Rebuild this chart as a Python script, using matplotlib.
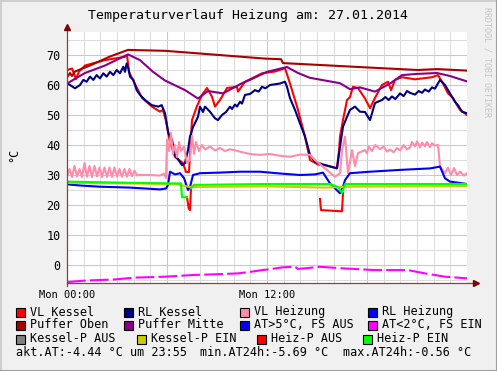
import matplotlib
matplotlib.use('agg')
import matplotlib.pyplot as plt
from matplotlib.patches import Rectangle
from matplotlib.lines import Line2D
import numpy as np

nan = np.nan

# --- data (hours since Mon 00:00, degC) ---
vl_kessel_h = [0, 0.3, 0.54, 0.72, 1.08, 2.28, 3.48, 3.6, 3.72, 3.9, 4.2, 4.5, 5.1, 5.58, 5.76, 5.94,
               6.18, 6.48, 6.96, 7.14, 7.32, 7.5, 7.8, 8.1, 8.4, 8.7, 8.88, 9.18, 9.6, 10.2, 10.26,
               10.68, 11.7, 12.48, 13.08, 13.38, 13.86, 14.28, 14.58, 15.06, 15.48, 16.2, 16.32,
               16.38, 16.56, 16.8, 16.98, 17.16, 17.46, 17.88, 18.18, 18.48, 18.9, 19.26, 19.44,
               19.68, 20.1, 20.88, 21.9, 22.26, 22.56, 22.86, 23.16, 23.4, 23.58, 23.76, 24]
vl_kessel_v = [65, 65.5, 62, 64.5, 66.5, 68.3, 69.4, 70, 64.4, 62.3, 59, 55.7, 52.8, 51.1, 51.7, 48,
               41, 36, 34, 31, 31, 48.3, 53, 56.7, 59, 56.1, 52.8, 55, 59, 59.4, 57.8,
               61.1, 63.9, 64.5, 65.6, 60.5, 51.7, 42.8, 35, 33.5, 33.3, 32.3, 38,
               42.8, 48.3, 55, 56, 59.4, 59, 55.5, 52.3, 55.7, 60, 61.1, 58.3,
               61.7, 62.6, 61.9, 62.6, 63.3, 60.5, 57.2, 55.7, 53.3, 51.7, 51, 50]

rl_kessel_h = [0, 0.18, 0.48, 0.78, 0.98, 1.18, 1.38, 1.58, 1.78, 1.98, 2.18, 2.38, 2.58, 2.78, 2.98,
               3.18, 3.38, 3.48, 3.58, 3.68, 3.78, 3.98, 4.18, 4.38, 4.68, 5.08, 5.48, 5.68, 5.88,
               5.98, 6.08, 6.3, 6.48, 6.9, 7.08, 7.26, 7.38, 7.56, 7.68, 7.86, 7.98, 8.16, 8.28,
               8.58, 8.88, 9.06, 9.3, 9.54, 9.78, 9.9, 10.08, 10.2, 10.38, 10.5, 10.68, 10.98, 11.28,
               11.5, 11.7, 11.9, 12.18, 12.78, 13.08, 13.2, 13.38, 13.68, 13.98, 14.28, 14.58, 14.88,
               15.48, 16.2, 16.38, 16.56, 16.8, 16.98, 17.28, 17.58, 17.88, 18.18, 18.48, 18.9, 19.1,
               19.3, 19.5, 19.7, 19.98, 20.2, 20.4, 20.58, 20.88, 21.1, 21.3, 21.48, 21.7, 21.9,
               22.08, 22.38, 22.68, 22.98, 23.28, 23.46, 23.7, 24]
rl_kessel_v = [60.6, 60, 58.9, 60, 61.7, 61.1, 62.8, 61.7, 63.3, 62.2, 63.9, 62.8, 64.4, 63.3, 65,
               63.9, 66.1, 64.4, 67.2, 65.6, 62.8, 61.7, 58.3, 56.7, 55, 53.3, 52.8, 53.3, 50.6,
               47.2, 43.9, 41.7, 36.7, 33.3, 34, 38.3, 42.8, 46, 47.3, 49.4, 52.8, 51, 52.8,
               51.1, 48.9, 48.3, 50, 51, 52.8, 52, 53.5, 52.8, 54.4, 53.8, 56.7, 57, 58.3,
               57.8, 59.4, 58.9, 60, 60.5, 61.1, 59.4, 55.6, 51.7, 47.2, 42.8, 36.7, 34.4,
               33.3, 32.2, 39.4, 46.1, 49.4, 51.7, 52.8, 51.1, 51, 48.3, 54, 55, 56,
               55, 56.2, 55.3, 57.2, 56.3, 58, 57.4, 56.8, 58, 57.4, 58.5, 57.8, 59.2,
               58.8, 61.7, 60, 57.2, 54.4, 53.3, 51.1, 50.6]

vl_heizung_h = [0, 0.15, 0.3, 0.45, 0.6, 0.75, 0.9, 1.05, 1.2, 1.35, 1.5, 1.65, 1.8, 1.95, 2.1, 2.25,
                2.4, 2.55, 2.7, 2.85, 3.0, 3.15, 3.3, 3.45, 3.6, 3.75, 3.9, 4.05, 4.2, 4.26, 4.98,
                5.58, 5.82, 5.94, 6.0, 6.12, 6.24, 6.36, 6.48, 6.6, 6.72, 6.84, 7.02, 7.2, 7.38,
                7.5, 7.62, 7.74, 7.92, 8.1, 8.28, 8.58, 8.88, 9.18, 9.48, 9.78, 10.38, 10.98,
                11.58, 12.18, 12.78, 13.38, 13.98, 14.58, 14.88, 15.48, 16.08, 16.38, 16.5, 16.68,
                16.86, 17.1, 17.28, 17.46, 17.88, 18.0, 18.1, 18.3, 18.5, 18.78, 19.0, 19.2, 19.38,
                19.6, 19.8, 19.98, 20.2, 20.4, 20.58, 20.7, 20.88, 21.0, 21.18, 21.3, 21.48, 21.6,
                21.78, 21.9, 22.08, 22.26, 22.38, 22.68, 22.86, 23.04, 23.22, 23.4, 23.58, 23.82, 24]
vl_heizung_v = [29.5, 32, 29.3, 33, 29.5, 32, 29.3, 34, 29.4, 33, 29.3, 33, 29.5, 32.5, 29.3, 32.5,
                29.4, 32.5, 29.3, 32.5, 29.5, 32, 29.4, 32, 29.4, 32, 29.6, 31.5, 29.8, 30, 30,
                29.8, 30.5, 29, 41.7, 38, 44, 37, 40, 36, 41, 38, 39.5, 34, 35,
                43, 37, 41, 38, 40, 38.5, 39.5, 38.2, 39, 38, 38.6, 37.8, 37,
                36.7, 37, 36.4, 36.1, 36.8, 36.7, 35, 32.2, 29.4, 30.6, 38.3, 42.8,
                30.6, 38.3, 33, 37.3, 38.3, 37.2, 39.5, 38, 40, 38.6, 39.5, 37.8, 38.5,
                37.6, 39, 38.2, 40, 38.5, 39.2, 41, 39.5, 41.2, 39.2, 40.8, 39.6, 41,
                39.3, 40.6, 39.8, 40, 32.8, 30.6, 32.5, 30, 32.3, 30, 31.1, 29.8, 30.6]

rl_heizung_h = [0, 0.78, 1.98, 3.78, 4.68, 5.58, 5.94, 6.06, 6.18, 6.48, 6.78, 7.02, 7.26, 7.38, 7.56,
                7.98, 9.18, 10.38, 11.58, 12.78, 13.98, 14.88, 15.36, 15.78, 16.38, 16.56, 16.68,
                16.98, 18.18, 19.98, 21.78, 22.38, 22.68, 22.98, 24]
rl_heizung_v = [26.9, 26.5, 26.1, 25.8, 25.5, 25.2, 25.5, 26.7, 31.1, 30.2, 30.6, 29, 25, 26, 30,
                30.6, 30.8, 31.1, 31.1, 30.5, 30, 30.2, 30.8, 27.2, 23.9, 26, 28.3,
                30.6, 31.1, 31.7, 32.2, 32.8, 28.9, 27.8, 27]

puffer_oben_h = [0, 0.18, 0.3, 0.48, 1.38, 2.58, 3.66, 5.88, 7.98, 11.88, 12.84, 12.96, 15.78, 18.18,
                 21.06, 21.78, 22.26, 24]
puffer_oben_v = [62.5, 64, 63, 64.5, 66.5, 69.5, 71.7, 71.4, 70.5, 68.8, 68.6, 67.3, 66.5, 65.8,
                 65, 65.2, 65.3, 64.8]

puffer_mitte_h = [0, 1.08, 2.28, 3.66, 4.38, 5.16, 5.88, 7.08, 7.86, 8.46, 9.36, 10.5, 10.98, 12,
                  13.2, 13.86, 14.58, 16.38, 16.98, 17.58, 18.48, 19.38, 20.1, 21, 22.2, 22.98, 24]
puffer_mitte_v = [60.5, 64, 66.5, 70.2, 68.3, 64.4, 61.5, 58.3, 55.5, 58, 57.2, 60.6, 61.7, 64.4,
                  66, 64, 62.4, 60.6, 58.6, 59.2, 57.8, 60.5, 63.3, 63.7, 64, 63, 61.2]

at_fs_ein_h = [0, 1.08, 2.88, 4.08, 5.88, 7.68, 8.88, 10.26, 11.1, 11.7, 12.18, 12.9, 13.68, 13.86,
               14.28, 15.18, 16.5, 18.48, 20.46, 21.48, 22.68, 24]
at_fs_ein_v = [-5.69, -5.2, -4.8, -4.2, -3.9, -3.3, -3.1, -2.8, -2.2, -1.7, -1.4, -0.8, -0.56, -1.3,
               -1.1, -0.6, -1.1, -1.7, -1.7, -2.8, -3.9, -4.44]

kessel_p_ein_h = [0, 6.48, 7.38, 12, 15.5, 17, 24]
kessel_p_ein_v = [27.4, 27, 26, 26.2, 25.8, 26.1, 26.3]

heiz_p_aus_h = [7.2, 7.3, 7.38, 7.44, 7.45, 15.18, 15.24, 16.5, 16.56]
heiz_p_aus_v = [22.6, 18.9, 18.3, 25.6, nan, 22, 18.3, 17.9, 24]

heiz_p_ein_h = [0, 3.78, 6.18, 6.84, 6.9, 7.2, 7.21, 7.44, 7.62, 11.88, 15.78, 16.26, 16.5, 16.68, 24]
heiz_p_ein_v = [27.8, 27.4, 27.2, 27.2, 22.6, 22.6, nan, 25.6, 26.7, 27, 27, 26, 24, 27, 27]

legend_rows = [
    [("VL Kessel", "#FF0000"), ("RL Kessel", "#000080"), ("VL Heizung", "#FF8CAA"), ("RL Heizung", "#0000FF")],
    [("Puffer Oben", "#AA0000"), ("Puffer Mitte", "#880088"), ("AT>5°C, FS AUS", "#0000FF"), ("AT<2°C, FS EIN", "#FF00FF")],
    [("Kessel-P AUS", "#808080"), ("Kessel-P EIN", "#CCCC00"), ("Heiz-P AUS", "#FF0000"), ("Heiz-P EIN", "#00FF00")],
]
legend_x = [[16, 124, 240, 368], [16, 124, 240, 368], [16, 137, 257, 363]]
stats_text = ["akt.AT:-4.44 °C um 23:55", "min.AT24h:-5.69 °C", "max.AT24h:-0.56 °C"]
stats_x = [16, 200, 343]

W, H = 497, 371
mono = 'DejaVu Sans Mono'

fig = plt.figure(figsize=(W / 100, H / 100), dpi=100)
fig.patch.set_facecolor('#F0F0F0')

ax = fig.add_axes([67 / W, (H - 283) / H, 400 / W, 251 / H])
ax.set_facecolor('white')
ax.set_xlim(0, 24)
ax.set_ylim(-6, 77.67)

# grid
for h in range(1, 24):
    c = '#F2B8B8' if h % 6 == 0 else '#DCDCDC'
    ax.axvline(h, color=c, lw=0.75, zorder=0)
for v in range(-5, 78, 5):
    c = '#F2B8B8' if v % 10 == 0 else '#DCDCDC'
    ax.axhline(v, color=c, lw=0.75, zorder=0)

lw = 1.5
ax.plot(vl_kessel_h, vl_kessel_v, color='#FF0000', lw=lw, zorder=2)
ax.plot(rl_kessel_h, rl_kessel_v, color='#000080', lw=lw, zorder=3)
ax.plot(vl_heizung_h, vl_heizung_v, color='#FF8CAA', lw=lw, zorder=4)
ax.plot(rl_heizung_h, rl_heizung_v, color='#0000FF', lw=lw, zorder=5)
ax.plot(puffer_oben_h, puffer_oben_v, color='#AA0000', lw=lw, zorder=6)
ax.plot(puffer_mitte_h, puffer_mitte_v, color='#880088', lw=lw, zorder=7)
ax.plot(at_fs_ein_h, at_fs_ein_v, color='#FF00FF', lw=lw, ls=(0, (9, 2)), zorder=8)
ax.plot(kessel_p_ein_h, kessel_p_ein_v, color='#CCCC00', lw=lw, zorder=9)
ax.plot(heiz_p_aus_h, heiz_p_aus_v, color='#FF0000', lw=lw, zorder=10)
ax.plot(heiz_p_ein_h, heiz_p_ein_v, color='#00FF00', lw=lw, zorder=11)

# ticks
ax.set_yticks(range(0, 71, 10))
ax.set_yticklabels([str(v) for v in range(0, 71, 10)], family=mono, fontsize=8.5)
ax.set_xticks([0, 12])
ax.set_xticklabels(['Mon 00:00', 'Mon 12:00'], family=mono, fontsize=7.5)
ax.tick_params(axis='y', length=0, pad=4.5)
ax.tick_params(axis='x', length=0, pad=5)
for s in ax.spines.values():
    s.set_visible(False)

# axes with arrows
axis_col = '#8B4040'
ax.plot([0, 0], [-0.01, 1.015], transform=ax.transAxes, color=axis_col, lw=0.9, clip_on=False, zorder=20)
ax.plot([0, 1.02], [0, 0], transform=ax.transAxes, color=axis_col, lw=0.9, clip_on=False, zorder=20)
ax.plot([0], [1.02], transform=ax.transAxes, marker='^', ms=4, color='#7F0000', clip_on=False, zorder=21)
ax.plot([1.022], [0], transform=ax.transAxes, marker='>', ms=4, color='#7F0000', clip_on=False, zorder=21)

fig.text(248 / W, 1 - 16 / H, 'Temperaturverlauf Heizung am: 27.01.2014', ha='center', va='center',
         family=mono, fontsize=9.5)
fig.text(14 / W, 1 - 155 / H, '°C', rotation=90, ha='center', va='center', family=mono, fontsize=8.5)
fig.text(487 / W, 1 - 62 / H, 'RRDTOOL / TOBI OETIKER', rotation=270, ha='center', va='center',
         family=mono, fontsize=6, color='#C4C4C4')

# legend
row_y = [312, 325, 339]
for r, row in enumerate(legend_rows):
    for (label, col), x in zip(row, legend_x[r]):
        y = row_y[r]
        fig.add_artist(Rectangle((x / W, 1 - (y + 4.5) / H), 9 / W, 9 / H, transform=fig.transFigure,
                                 facecolor=col, edgecolor='black', lw=0.8))
        fig.text((x + 14) / W, 1 - y / H, label, ha='left', va='center', family=mono, fontsize=8.5)
for t, x in zip(stats_text, stats_x):
    fig.text(x / W, 1 - 353 / H, t, ha='left', va='center', family=mono, fontsize=8.5)

# 3d frame
fig.add_artist(Line2D([0, 1], [1 - 0.5 / H, 1 - 0.5 / H], transform=fig.transFigure, color='#CFCFCF', lw=1.5))
fig.add_artist(Line2D([0.5 / W, 0.5 / W], [0, 1], transform=fig.transFigure, color='#CFCFCF', lw=1.5))
fig.add_artist(Line2D([0, 1], [0.5 / H, 0.5 / H], transform=fig.transFigure, color='#9E9E9E', lw=1.5))
fig.add_artist(Line2D([1 - 0.5 / W, 1 - 0.5 / W], [0, 1], transform=fig.transFigure, color='#9E9E9E', lw=1.5))

fig.savefig('out.png', dpi=100, facecolor=fig.get_facecolor())
